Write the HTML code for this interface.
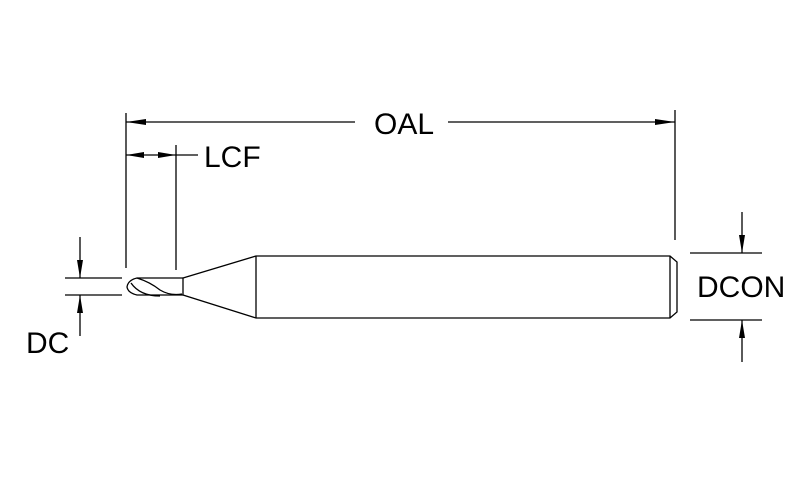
<!DOCTYPE html>
<html><head><style>body{margin:0;background:#fff}svg{display:block}</style></head><body>
<svg width="800" height="500" viewBox="0 0 800 500" xmlns="http://www.w3.org/2000/svg">
<g stroke="#000" stroke-width="1.3" fill="none">
<!-- extension lines -->
<line x1="126" y1="113" x2="126" y2="268"/>
<line x1="176" y1="145" x2="176" y2="270"/>
<line x1="675" y1="110" x2="675" y2="240"/>
<!-- OAL -->
<line x1="126" y1="122" x2="355" y2="122"/>
<line x1="448" y1="122" x2="675" y2="122"/>
<!-- LCF -->
<line x1="126" y1="155" x2="198" y2="155"/>
<!-- DC -->
<line x1="65" y1="278" x2="122" y2="278"/>
<line x1="65" y1="295" x2="122" y2="295"/>
<line x1="80" y1="237" x2="80" y2="278"/>
<line x1="80" y1="295" x2="80" y2="336"/>
<!-- DCON -->
<line x1="690" y1="253" x2="762" y2="253"/>
<line x1="690" y1="320" x2="762" y2="320"/>
<line x1="742" y1="212" x2="742" y2="253"/>
<line x1="742" y1="320" x2="742" y2="362"/>
<!-- tool -->
<path d="M183 278 L256 256 L670 256 L677 262 L677 312 L670 318 L256 318 L183 295 Z"/>
<line x1="256" y1="256" x2="256" y2="318"/>
<line x1="670" y1="256" x2="670" y2="318"/>
<path d="M183 278 L137 278 Q128 280 127 287 Q128 293 137 295 L183 295"/>
<path d="M137 278 Q150 282 160 290 Q170 296 182 294"/>
<path d="M131 283 Q140 296 160 296"/>
</g>
<g fill="#000">
<polygon points="126,122 146,119 146,125"/>
<polygon points="675,122 655,119 655,125"/>
<polygon points="126,155 144,152 144,158"/>
<polygon points="176,155 158,152 158,158"/>
<polygon points="80,278 77,260 83,260"/>
<polygon points="80,295 77,313 83,313"/>
<polygon points="742,253 739,235 745,235"/>
<polygon points="742,320 739,338 745,338"/>
</g>
<g font-family="Liberation Sans, sans-serif" font-size="30" fill="#000">
<text x="374" y="134">OAL</text>
<text x="204" y="167">LCF</text>
<text x="26" y="353">DC</text>
<text x="697" y="297">DCON</text>
</g>
</svg>
</body></html>
